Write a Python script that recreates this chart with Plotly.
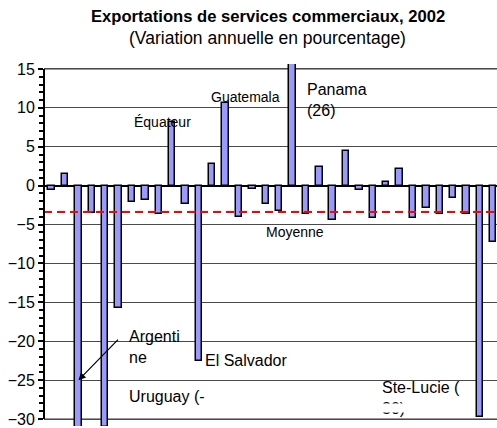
import plotly.graph_objects as go

# Variation annuelle en pourcentage
valeurs = [-0.6, 1.5, -34, -3.5, -31, -15.7, -2.1, -1.9, -3.6, 8.2,
           -2.3, -22.5, 2.8, 10.6, -4.0, -0.4, -2.4, -3.2, 26, -3.7,
           2.4, -4.4, 4.5, -0.6, -4.2, 0.5, 2.1, -4.2, -2.9, -3.6,
           -1.6, -3.6, -29.8, -7.2]
positions = list(range(len(valeurs)))
moyenne = -3.4
y_ticks = [-30, -25, -20, -15, -10, -5, 0, 5, 10, 15]

FONT = "Arial, Liberation Sans, sans-serif"
Y_MIN, Y_MAX = -30.895, 15.64
X_MIN, X_MAX = -0.575, 33.28

fig = go.Figure()
fig.add_trace(go.Bar(
    x=positions, y=valeurs, width=0.48,
    marker=dict(color="#9999FF", line=dict(color="black", width=1.5)),
    showlegend=False, hoverinfo="skip"))
fig.add_trace(go.Scatter(
    x=[X_MIN, X_MAX], y=[moyenne, moyenne], mode="lines",
    line=dict(color="#FF0000", width=2, dash="8px,5px"),
    showlegend=False, hoverinfo="skip"))

shapes = [
    dict(type="line", xref="paper", yref="y", x0=0, x1=1, y0=15, y1=15,
         line=dict(color="#999999", width=2), layer="below"),
    dict(type="line", xref="paper", yref="y", x0=0, x1=1, y0=-30, y1=-30,
         line=dict(color="#999999", width=2), layer="below"),
    dict(type="line", xref="paper", yref="y", x0=0, x1=0, y0=-30, y1=15,
         line=dict(color="black", width=2), layer="above"),
]

small = dict(family=FONT, size=14, color="black")
big = dict(family=FONT, size=16, color="black")
annotations = [
    dict(text="<b>Exportations de services commerciaux, 2002</b>", xref="paper", yref="paper",
         x=0.494, y=1.131, xanchor="center", yanchor="middle", showarrow=False,
         font=dict(family=FONT, size=16.6, color="black")),
    dict(text="(Variation annuelle en pourcentage)", xref="paper", yref="paper",
         x=0.494, y=1.072, xanchor="center", yanchor="middle", showarrow=False,
         font=dict(family=FONT, size=17.5, color="black")),
    dict(text="Équateur", x=8.28, y=8.13, xanchor="center", yanchor="middle", showarrow=False, font=small),
    dict(text="Guatemala", x=11.76, y=11.38, xanchor="left", yanchor="middle", showarrow=False, font=small),
    dict(text="Moyenne", x=18.18, y=-6.0, xanchor="center", yanchor="middle", showarrow=False, font=small),
    dict(text="Panama<br>(26)", x=18.93, y=11.0, xanchor="left", yanchor="middle", showarrow=False,
         font=big, align="left"),
    dict(text="Argenti<br>ne", x=5.6, y=-20.74, xanchor="left", yanchor="middle", showarrow=False,
         font=big, align="left"),
    dict(text="El Salvador", x=11.33, y=-22.43, xanchor="left", yanchor="middle", showarrow=False, font=big),
    dict(text="Uruguay (-", x=5.6, y=-27.1, xanchor="left", yanchor="middle", showarrow=False, font=big),
    dict(text="Ste-Lucie (<br>30)", x=24.54, y=-27.24, xanchor="left", yanchor="middle", showarrow=False,
         font=big, align="left"),
    dict(text=" ", x=24.4, y=-28.0, xanchor="left", yanchor="top", showarrow=False,
         width=85, height=8, bgcolor="white", borderpad=0, font=dict(size=4)),
    dict(text="", x=2, y=-25, ax=41, ay=-42, xref="x", yref="y", showarrow=True,
         arrowhead=2, arrowsize=1.2, arrowwidth=1.2, arrowcolor="black", standoff=0),
]

fig.update_layout(
    width=497, height=428,
    margin=dict(l=44, r=0, t=64, b=0, pad=0),
    paper_bgcolor="white", plot_bgcolor="white",
    font=dict(family=FONT, size=16, color="black"),
    bargap=0,
    shapes=shapes, annotations=annotations,
    xaxis=dict(range=[X_MIN, X_MAX], showticklabels=False, showgrid=False,
               zeroline=False, showline=False, ticks=""),
    yaxis=dict(range=[Y_MIN, Y_MAX], tickvals=y_ticks, ticks="outside", ticklen=5,
               tickwidth=1.5, tickcolor="black", showgrid=True, gridcolor="#4a4a4a",
               gridwidth=1, zeroline=True, zerolinecolor="black", zerolinewidth=1.5,
               showline=False, ticklabeloverflow="allow",
               tickfont=dict(family=FONT, size=16, color="black"),
               minor=dict(dtick=1, ticks="outside", ticklen=4, tickwidth=1.5,
                          tickcolor="black", showgrid=False)),
)

fig.write_html("out.html", config={"displayModeBar": False},
               post_script="document.body.style.margin='0';document.body.style.padding='0';")
